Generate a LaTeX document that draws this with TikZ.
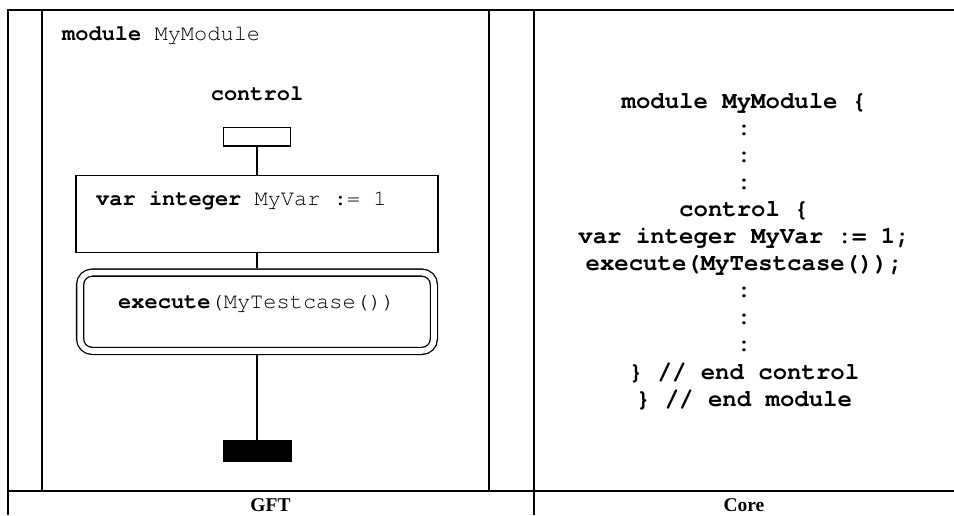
\documentclass[tikz,border=0pt]{standalone}
\usepackage{fontspec}
\setmonofont{TeX Gyre Cursor}
\newfontfamily\titlefont{Liberation Serif}
\usepackage{tikz}

\begin{document}
\begin{tikzpicture}[x=1pt, y=-1pt,
    gft/.style={font=\fontsize{22}{26}\selectfont\ttfamily, inner sep=0pt},
    core/.style={font=\fontsize{24}{27}\selectfont\ttfamily\bfseries, inner sep=0pt, anchor=base},
    caption/.style={font=\fontsize{19.5}{22}\selectfont\titlefont\bfseries, inner sep=0pt, anchor=base},
    flow/.style={line width=1.3pt}]
    \useasboundingbox (0,0) rectangle (954,515);

    % Table lines
    \draw[line width=2pt] (7.5,515) -- (7.5,10) -- (954,10);
    \draw[line width=2pt] (534,10) -- (534,515);
    \draw[line width=2pt] (7.5,491) -- (954,491);

    % Module frame
    \draw[flow] (42,10) rectangle (489,491);
    \node[gft, anchor=base west] (modname) at (62,40.5) {\textbf{module} MyModule};
    \node[gft, anchor=base] (ctrl) at (257,100) {\textbf{control}};

    % Control part
    \node[draw, flow, minimum width=66.7pt, minimum height=18.7pt, inner sep=0pt] (start) at (257,136.5) {};
    \node[draw, flow, minimum width=362pt, minimum height=77pt, inner sep=0pt] (var) at (257,214) {};
    \node[gft, anchor=base west] (vartext) at (96,205) {\textbf{var integer} MyVar := 1};
    \node[draw, flow, double, double distance=5.7pt, rounded corners=12pt,
          minimum width=353.8pt, minimum height=78.3pt, inner sep=0pt] (exec) at (257,311.75) {};
    \node[gft, anchor=base west] (exectext) at (118,308) {\textbf{execute}(MyTestcase())};
    \node[fill, minimum width=69pt, minimum height=22pt, inner sep=0pt] (stop) at (257,451) {};

    \draw[flow] (start) -- (var);
    \draw[flow, shorten >=3.5pt] (var) -- (exec);
    \draw[flow, shorten <=3.5pt] (exec) -- (stop);

    % Core notation
    \foreach \txt [count=\i] in {{module MyModule \{}, {:}, {:}, {:}, {control \{},
        {var integer MyVar := 1;}, {execute(MyTestcase());}, {:}, {:}, {:},
        {\} // end control}, {\} // end module}}
        \node[core] (core\i) at (744, {108+27.1*(\i-1)}) {\txt};

    % Captions
    \node[caption] (gftcap) at (270.5,511) {GFT};
    \node[caption] (corecap) at (744,511) {Core};
\end{tikzpicture}
\end{document}
